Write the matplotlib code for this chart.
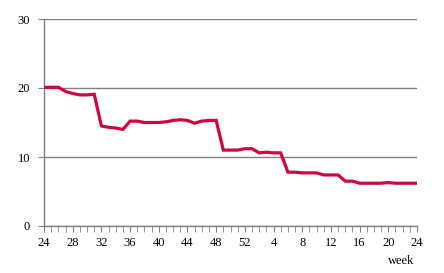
import matplotlib
matplotlib.use("Agg")
import matplotlib.pyplot as plt

weeks = [24, 25, 26, 27, 28, 29, 30, 31, 32, 33, 34, 35, 36, 37, 38, 39, 40, 41, 42, 43,
         44, 45, 46, 47, 48, 49, 50, 51, 52, 1, 2, 3, 4, 5, 6, 7, 8, 9, 10, 11, 12, 13,
         14, 15, 16, 17, 18, 19, 20, 21, 22, 23, 24]
values = [20.1, 20.1, 20.1, 19.5, 19.2, 19.0, 19.0, 19.1, 14.5, 14.3, 14.2, 14.0, 15.2,
          15.2, 15.0, 15.0, 15.0, 15.1, 15.3, 15.4, 15.3, 14.9, 15.2, 15.3, 15.3, 11.0,
          11.0, 11.0, 11.2, 11.2, 10.6, 10.7, 10.6, 10.6, 7.8, 7.8, 7.7, 7.7, 7.7, 7.4,
          7.4, 7.4, 6.5, 6.5, 6.2, 6.2, 6.2, 6.2, 6.3, 6.2, 6.2, 6.2, 6.2]
y_ticks = [0, 10, 20, 30]

plt.rcParams['font.family'] = ['Liberation Serif', 'DejaVu Serif']

fig = plt.figure(figsize=(4.44, 2.73), dpi=100)
ax = fig.add_axes([44/444, 1-226/273, (417-44)/444, (226-19)/273])

x = list(range(len(weeks)))
ax.plot(x, values, color='#D0063C', lw=2.3, solid_joinstyle='miter', zorder=3)

ax.set_xlim(0, len(weeks)-1)
ax.set_ylim(0, 30)
ax.set_yticks(y_ticks)
ax.set_yticklabels([str(v) for v in y_ticks])
major = [i for i in x if i % 4 == 0]
ax.set_xticks(major)
ax.set_xticklabels([str(weeks[i]) for i in major])
ax.set_xticks(x, minor=True)

ax.grid(axis='y', color='#808080', lw=1.0)
ax.set_axisbelow(True)
for s in ['top', 'right']:
    ax.spines[s].set_visible(False)
for s in ['left', 'bottom']:
    ax.spines[s].set_color('#808080')
    ax.spines[s].set_linewidth(1.0)
ax.tick_params(axis='y', which='major', length=4, color='#808080', labelsize=9, pad=6)
ax.tick_params(axis='x', which='both', length=4, color='#808080', direction='out', labelsize=9, pad=4)

fig.text(401/444, 1-261/273, 'week', ha='center', va='center', fontsize=9)

fig.savefig('out.png', dpi=100)
